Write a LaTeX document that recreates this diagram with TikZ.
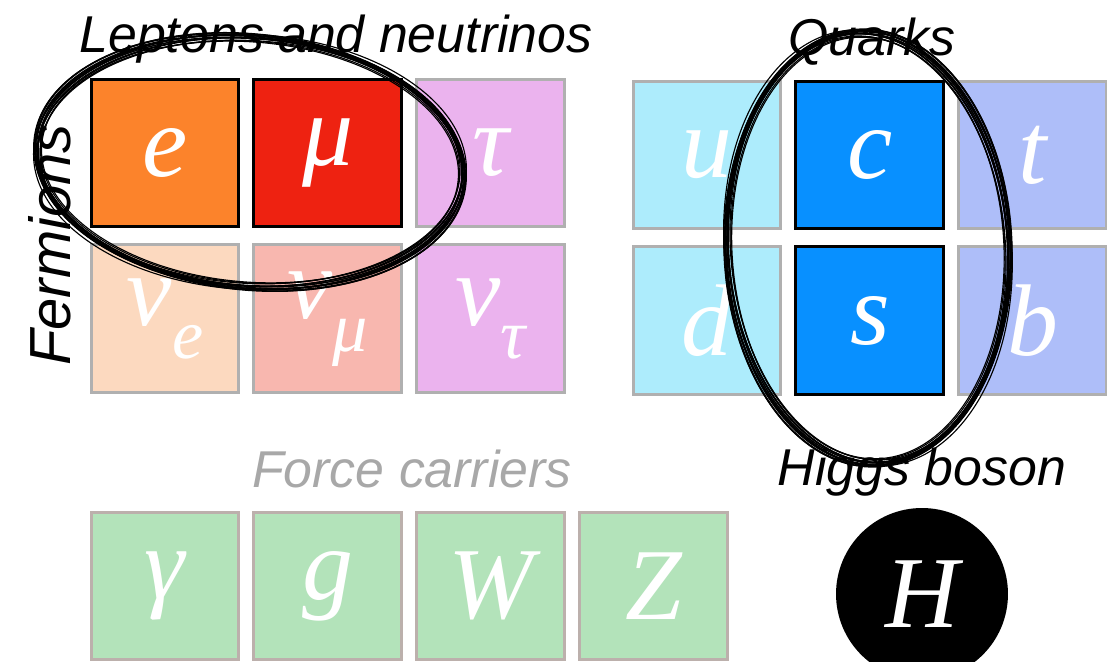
\documentclass[tikz,border=0pt]{standalone}
\usepackage{fontspec}
\usepackage{xcolor}
\usepackage{tikz}
\usetikzlibrary{positioning}

\newfontfamily\lblfont{Liberation Sans}
\newfontfamily\partfont{Liberation Serif}
\newcommand\subsym[1]{\raisebox{-0.32em}{\fontsize{40}{40}\selectfont #1}}

\definecolor{boxgrey}{HTML}{B0B0B0}
\definecolor{carriergrey}{HTML}{BCB0AC}
\definecolor{eorange}{HTML}{FC832B}
\definecolor{mured}{HTML}{EE2211}
\definecolor{tauviolet}{HTML}{EBB3EE}
\definecolor{nuepeach}{HTML}{FCD9BF}
\definecolor{numupink}{HTML}{F8B7AF}
\definecolor{udcyan}{HTML}{ADECFC}
\definecolor{csblue}{HTML}{0890FF}
\definecolor{tbblue}{HTML}{AEBEF9}
\definecolor{carriergreen}{HTML}{B3E3BA}
\definecolor{forcegrey}{HTML}{A8A8A8}

\begin{document}
\begin{tikzpicture}[
      x=0.02cm, y=-0.02cm,
      particle/.style={draw=boxgrey, line width=1.7pt, minimum width=2.96cm,
                       minimum height=2.96cm, inner sep=0pt, text=white,
                       font=\partfont\itshape\fontsize{58}{58}\selectfont},
      picked/.style={particle, draw=black},
      carrier/.style={particle, draw=carriergrey, fill=carriergreen},
      group/.style={font=\lblfont\itshape\fontsize{29.5}{29.5}\selectfont},
      sketch/.style={line width=0.65pt, black}
    ]
    \useasboundingbox (0,0) rectangle (1107,662);

    % Leptons and neutrinos
    \node[picked, fill=eorange] (e) at (165,153) {e};
    \node[picked, fill=mured, right=0.24cm of e] (mu) {μ};
    \node[particle, fill=tauviolet, right=0.24cm of mu] (tau) {τ};
    \node[particle, fill=nuepeach, below=0.3cm of e] (nue) {ν\subsym{e}};
    \node[particle, fill=numupink, below=0.3cm of mu] (numu) {ν\subsym{μ}};
    \node[particle, fill=tauviolet, below=0.3cm of tau] (nutau) {ν\subsym{τ}};

    % Quarks
    \node[particle, fill=udcyan] (u) at (707,155) {u};
    \node[picked, fill=csblue, right=0.24cm of u] (c) {c};
    \node[particle, fill=tbblue, right=0.24cm of c] (t) {t};
    \node[particle, fill=udcyan, below=0.3cm of u] (d) {d};
    \node[picked, fill=csblue, below=0.3cm of c] (s) {s};
    \node[particle, fill=tbblue, below=0.3cm of t] (b) {b};

    % Force carriers and Higgs
    \node[carrier] (gamma) at (165,586) {γ};
    \node[carrier, right=0.24cm of gamma] (gluon) {g};
    \node[carrier, right=0.24cm of gluon] (wboson) {W};
    \node[carrier, right=0.24cm of wboson] (zboson) {Z};
    \node[circle, fill=black, minimum size=3.44cm, text=white,
          font=\partfont\itshape\fontsize{58}{58}\selectfont] (higgs) at (922,594) {H};

    % Group labels
    \node[group] (leptlbl) at (336,39) {Leptons and neutrinos};
    \node[group] (quarklbl) at (872,42) {Quarks};
    \node[group, text=forcegrey] (forcelbl) at (412,469) {Force carriers};
    \node[group] (higgslbl) at (922,472) {Higgs boson};
    \node[group, rotate=90, font=\lblfont\itshape\fontsize{33}{33}\selectfont]
      (fermlbl) at (50,245) {Fermions};

    % Hand-drawn rings
    \coordinate (lepring) at (250,162);
    \coordinate (quarkring) at (868,248);
    \pgfmathsetseed{7}
    \foreach \k in {1,...,16}{
      \pgfmathsetmacro\dx{5*rand}
      \pgfmathsetmacro\dy{4*rand}
      \pgfmathsetmacro\dr{5*rand}
      \pgfmathsetmacro\da{2*rand}
      \draw[sketch, shift={(\dx,\dy)}, rotate around={-5+\da:(lepring)}]
        (lepring) ellipse [x radius={213+\dr}, y radius={124+\dr}];
      \draw[sketch, shift={(\dy,\dx)}, rotate around={3+\da:(quarkring)}]
        (quarkring) ellipse [x radius={140+\dr}, y radius={215+\dr}];
    }
  \end{tikzpicture}
\end{document}
